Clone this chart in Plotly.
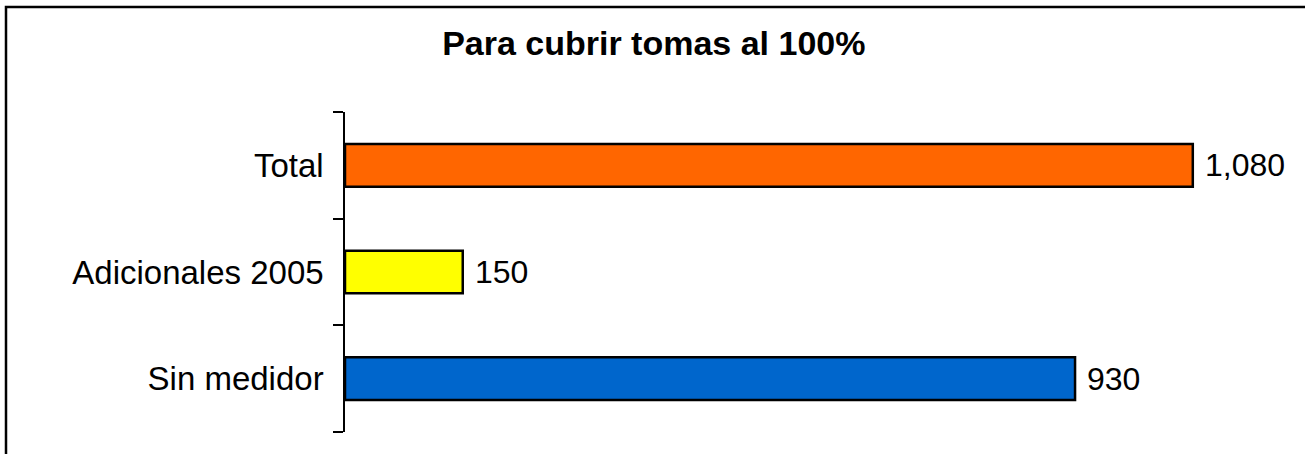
import plotly.graph_objects as go

# data (top to bottom as shown)
categories = ["Total", "Adicionales 2005", "Sin medidor"]
values = [1080, 150, 930]
bar_colors = ["#FF6600", "#FFFF00", "#0066CC"]
chart_title = "Para cubrir tomas al 100%"

W, H = 1305, 454
L, R, T, B = 345, 18, 112, 22
pw, ph = W - L - R, H - T - B
FONT = "Liberation Sans, Arial"


def px_x(p):
    return (p - L) / pw


def px_y(p):
    return (H - B - p) / ph


fig = go.Figure()
fig.add_trace(go.Bar(
    x=values,
    y=categories,
    orientation="h",
    width=0.4,
    marker=dict(color=bar_colors, line=dict(color="black", width=2.5)),
    hoverinfo="x+y",
))

# value labels next to the bars
for c, v in zip(categories, values):
    fig.add_annotation(x=v, y=c, text=f"{v:,}", showarrow=False,
                       xanchor="left", xshift=10,
                       font=dict(family=FONT, size=32, color="black"))

# outer chart border (runs off the right / bottom of the picture)
fig.add_shape(type="rect", xref="paper", yref="paper",
              x0=px_x(6), x1=px_x(W + 10), y0=px_y(H + 10), y1=px_y(7),
              line=dict(color="black", width=2.5), fillcolor="rgba(0,0,0,0)")

fig.update_layout(
    width=W, height=H,
    margin=dict(l=L, r=R, t=T, b=B),
    paper_bgcolor="white", plot_bgcolor="white",
    showlegend=False,
    title=dict(text=f"<b>{chart_title}</b>", x=0.501, xanchor="center",
               y=1 - 43 / H, yanchor="middle",
               font=dict(family=FONT, size=34, color="black")),
    font=dict(family=FONT, size=32, color="black"),
)
fig.update_xaxes(range=[0, 1200], visible=False, fixedrange=True)
fig.update_yaxes(
    categoryorder="array", categoryarray=categories[::-1],
    showline=True, linecolor="black", linewidth=1.5,
    ticks="outside", tickson="boundaries", ticklen=10, tickcolor="black", tickwidth=1.5,
    ticklabelstandoff=13,
    showgrid=False, zeroline=False, fixedrange=True,
    tickfont=dict(family=FONT, size=33, color="black"),
)

fig.write_html("out.html", config={"displayModeBar": False},
               post_script="document.body.style.margin='0px';")
